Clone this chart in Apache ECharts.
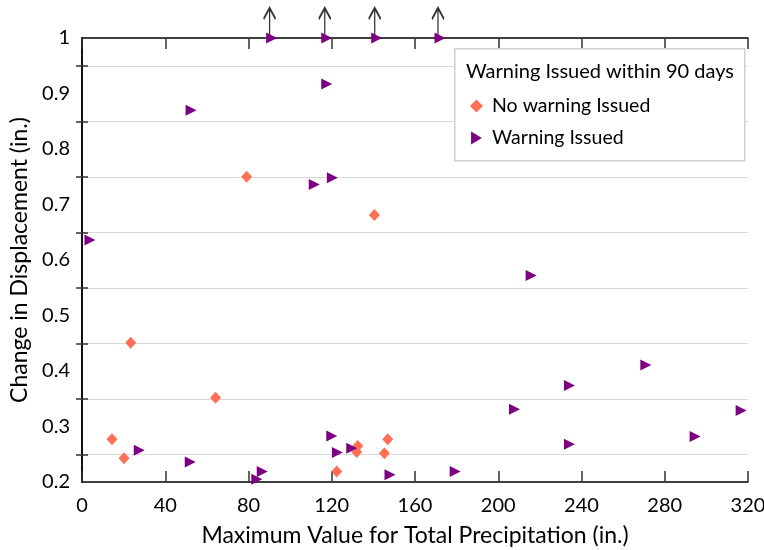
<!DOCTYPE html>
<html>
<head>
<meta charset="utf-8">
<script src="https://cdn.jsdelivr.net/npm/echarts@6/dist/echarts.min.js"></script>
<style>
  html, body { margin: 0; padding: 0; background: #fff; }
  #chart { width: 764px; height: 550px; }
</style>
</head>
<body>
<div id="chart"></div>
<script>
// precipitation (x) / displacement change (y)
let noWarnX = [14.4, 20.2, 23.4, 64.2, 79.1, 122.4, 132.0, 132.5, 140.5, 145.3, 146.9];
let noWarnY = [0.277, 0.243, 0.451, 0.352, 0.750, 0.219, 0.254, 0.265, 0.681, 0.252, 0.277];

let warnX = [3.8, 27.5, 52.0, 52.4, 84.0, 86.6, 91.1, 111.6, 117.6, 117.6, 120.0, 120.3, 122.7, 129.6,
    141.6, 148.0, 172.0, 179.3, 207.8, 215.8, 234.2, 234.2, 270.9, 294.6, 316.7];
let warnY = [0.636, 0.257, 0.236, 0.870, 0.205, 0.219, 1.0, 0.736, 0.917, 1.0, 0.283, 0.748, 0.253, 0.261,
    1.0, 0.213, 1.0, 0.219, 0.331, 0.572, 0.374, 0.268, 0.411, 0.282, 0.329];

// points whose value runs past the top of the axis
let offScaleX = [91.1, 117.6, 141.6, 172.0];
let offScaleY = [1.0, 1.0, 1.0, 1.0];

let xTicks = { min: 0, max: 320, interval: 40 };
let yTicks = { min: 0.2, max: 1, interval: 0.1 };
// small in-between ticks on the y axes
let yMinorTicks = [0.25, 0.35, 0.45, 0.55, 0.65, 0.75, 0.85, 0.95];

let font = 'Lato, "Open Sans", sans-serif';

function zip(xs, ys) {
    return xs.map((x, i) => [x, ys[i]]);
}

let chart = echarts.init(document.getElementById('chart'));

let yTick = {
    show: true, inside: true, length: 6,
    customValues: yMinorTicks,
    lineStyle: { color: '#333', width: 1.5 }
};

let option = {
    animation: false,
    backgroundColor: '#fff',
    textStyle: { fontFamily: font },
    grid: { left: 82, right: 16, top: 38, bottom: 68, outerBoundsMode: 'none', containLabel: false },
    xAxis: [{
        type: 'value',
        position: 'bottom',
        min: xTicks.min, max: xTicks.max, interval: xTicks.interval,
        name: 'Maximum Value for Total Precipitation (in.)',
        nameLocation: 'middle',
        nameGap: 42,
        nameTextStyle: { fontSize: 23, color: '#000', fontFamily: font },
        axisLine: { lineStyle: { color: '#000', width: 1.5 } },
        axisTick: { inside: true, length: 11, lineStyle: { color: '#333', width: 1.5 } },
        axisLabel: { fontSize: 20, color: '#000', margin: 14, fontFamily: font },
        splitLine: { show: false }
    }, {
        type: 'value',
        position: 'top',
        min: xTicks.min, max: xTicks.max, interval: xTicks.interval,
        axisLine: { lineStyle: { color: '#000', width: 1.5 } },
        axisTick: { inside: true, length: 11, lineStyle: { color: '#333', width: 1.5 } },
        axisLabel: { show: false },
        splitLine: { show: false }
    }],
    yAxis: [{
        type: 'value',
        position: 'left',
        min: yTicks.min, max: yTicks.max, interval: yTicks.interval,
        name: 'Change in Displacement (in.)',
        nameLocation: 'middle',
        nameGap: 45,
        nameTextStyle: { fontSize: 23, color: '#000', fontFamily: font },
        axisLine: { show: true, lineStyle: { color: '#000', width: 1.5 } },
        axisTick: yTick,
        axisLabel: { fontSize: 20, color: '#000', margin: 12, fontFamily: font },
        splitLine: { lineStyle: { color: '#d9d9d9', width: 1.2 } }
    }, {
        type: 'value',
        position: 'right',
        min: yTicks.min, max: yTicks.max, interval: yTicks.interval,
        axisLine: { show: true, lineStyle: { color: '#000', width: 1.5 } },
        axisTick: yTick,
        axisLabel: { show: false },
        splitLine: { show: false }
    }],
    legend: {
        orient: 'vertical',
        left: 465,
        top: 91,
        itemWidth: 13,
        itemHeight: 13,
        itemGap: 12,
        textStyle: { fontSize: 19.5, color: '#000', fontFamily: font, padding: [0, 0, 0, 4] },
        data: [
            { name: 'No warning Issued', icon: 'diamond' },
            { name: 'Warning Issued', icon: 'path://M0,0L10,6L0,12Z' }
        ]
    },
    graphic: [{
        type: 'rect',
        left: 454, top: 48, z: 3,
        shape: { width: 290, height: 112 },
        style: { fill: '#fff', stroke: '#cfcfcf', lineWidth: 1.5 }
    }, {
        type: 'text',
        left: 466, top: 62, z: 5,
        style: { text: 'Warning Issued within 90 days', fontSize: 20, fill: '#000', fontFamily: font }
    }],
    series: [{
        name: 'No warning Issued',
        type: 'scatter',
        symbol: 'diamond',
        symbolSize: [11, 12],
        itemStyle: { color: '#ff6f55', opacity: 1 },
        data: zip(noWarnX, noWarnY),
        z: 2
    }, {
        name: 'Warning Issued',
        type: 'scatter',
        symbol: 'triangle',
        symbolRotate: -90,
        symbolSize: [11, 11],
        itemStyle: { color: '#7d0082', opacity: 1 },
        clip: false,
        data: zip(warnX, warnY),
        z: 2
    }, {
        name: 'offscale',
        type: 'scatter',
        symbol: 'path://M6,0L6,30M0,11L6,0L12,11',
        symbolSize: [12, 30],
        symbolOffset: [-2, -15],
        clip: false,
        itemStyle: { color: 'transparent', borderColor: '#000', borderWidth: 2 },
        emphasis: { disabled: true },
        data: zip(offScaleX, offScaleY),
        z: 1
    }]
};

chart.setOption(option);
</script>
</body>
</html>
